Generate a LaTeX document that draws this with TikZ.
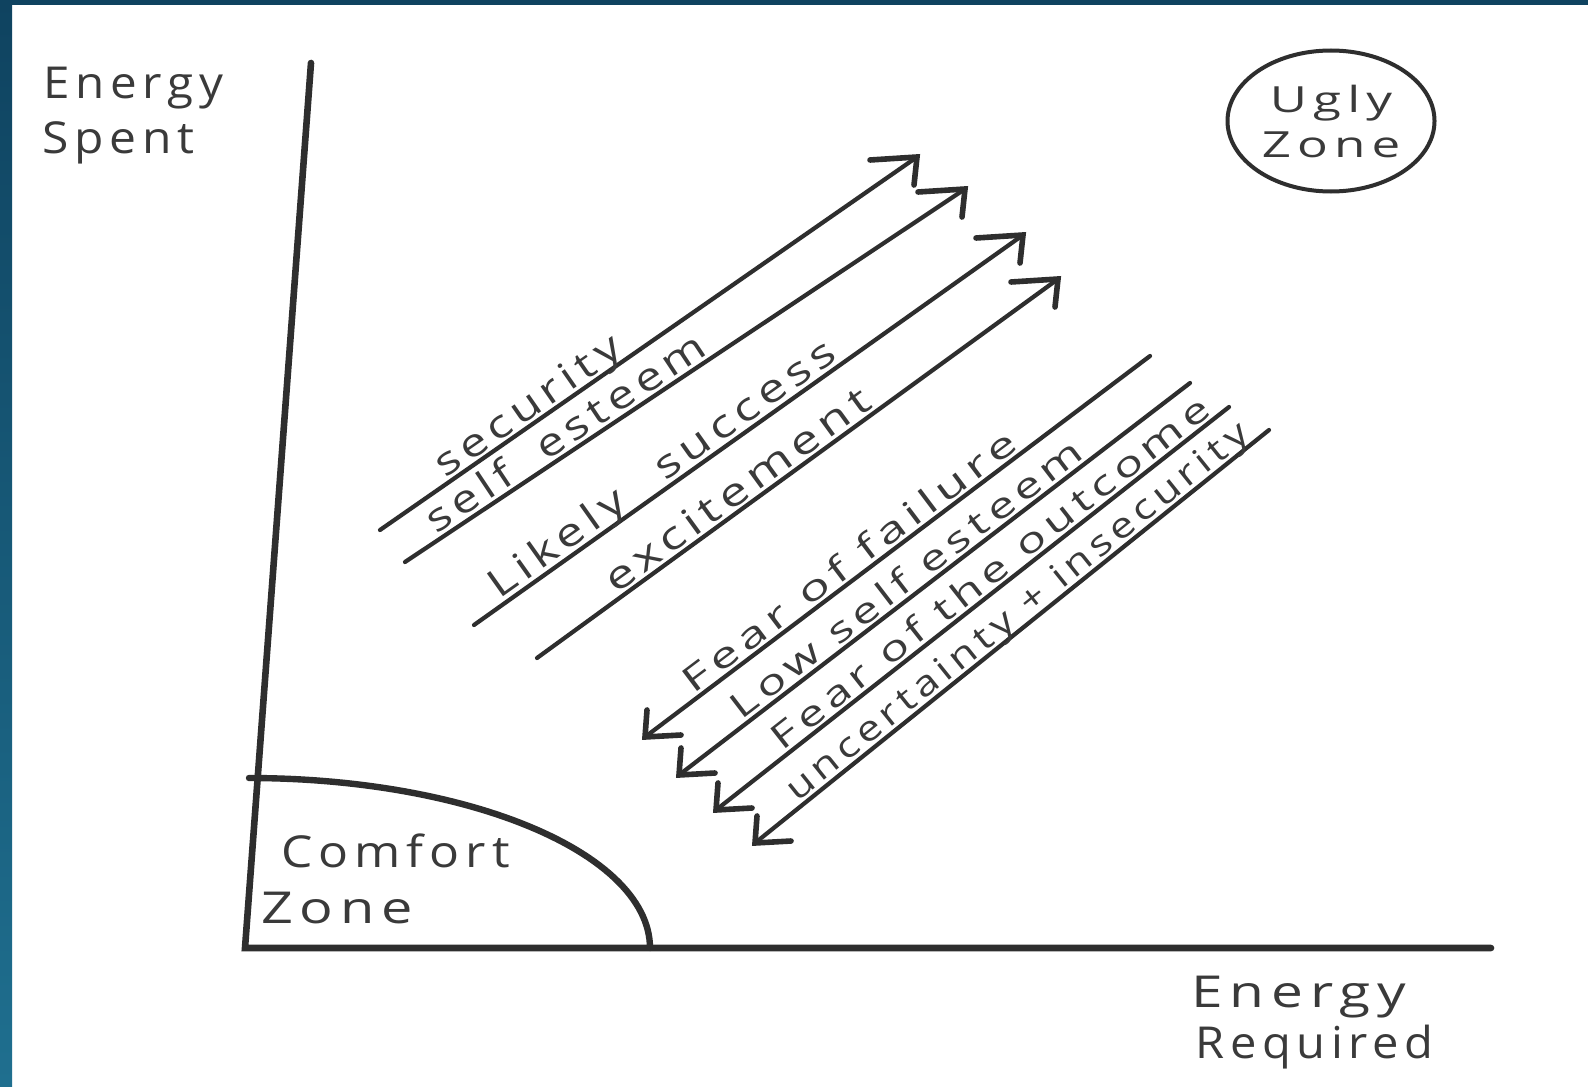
\documentclass[tikz,border=0pt]{standalone}
\usepackage{fontspec}
\setmainfont{Open Sans}
\newfontfamily\hand[LetterSpace=12]{Open Sans}
\usetikzlibrary{shapes.geometric}
\definecolor{ink}{HTML}{2E2E2E}
\definecolor{txt}{HTML}{3A3A3A}
\definecolor{bandtop}{HTML}{0F4360}
\definecolor{bandbot}{HTML}{1F6F8F}
\newcommand{\hw}[2]{\scalebox{#1}[1]{#2}}
\begin{document}
\begin{tikzpicture}[x=0.5pt,y=-0.5pt,
  axisline/.style={draw=ink,line width=3.3pt,line join=miter,line cap=round},
  arcline/.style={draw=ink,line width=3.2pt,line cap=round},
  shaft/.style={draw=ink,line width=2.1pt,line cap=round},
  headline/.style={draw=ink,line width=2.8pt,line cap=round,line join=miter},
  lbl/.style={text=txt,inner sep=0pt,sloped,anchor=base},
  uplbl/.style={lbl,font=\hand\fontsize{19.5}{22}\selectfont},
  dnlbl/.style={lbl,font=\hand\fontsize{17.5}{20}\selectfont},
  plain/.style={text=txt,inner sep=0pt,anchor=base west,font=\hand\fontsize{22}{26}\selectfont},
  zone/.style={ellipse,draw=ink,line width=2pt,minimum width=103.5pt,minimum height=70.5pt,
    inner sep=0pt,align=center,text=txt,font=\hand\fontsize{18}{22.5}\selectfont}]
% frame
\path[use as bounding box] (0,0) rectangle (1588,1086);
\fill[white] (0,0) rectangle (1588,1086);
\shade[top color=bandtop,bottom color=bandbot] (0,0) rectangle (12,1086);
\fill[bandtop] (0,0) rectangle (1588,5);
% axes
\coordinate (ytop) at (311,63);
\coordinate (origin) at (245,948);
\coordinate (xend) at (1491,948);
\draw[axisline] (ytop) -- (origin) -- (xend);
% comfort zone boundary
\draw[arcline] plot[domain=0:90,samples=60] ({249+401*sin(\x)},{948-170*cos(\x)});
% axis and zone labels
\node[plain] (es1) at (43,98) {\hw{1.08}{Energy}};
\node[plain] (es2) at (42,153) {\hw{1.09}{Spent}};
\node[plain] (er1) at (1191,1007) {\hw{1.29}{Energy}};
\node[plain] (er2) at (1195,1058) {\hw{1.07}{Required}};
\node[plain] (cz1) at (281,867) {\hw{1.13}{Comfort}};
\node[plain] (cz2) at (261,923) {\hw{1.27}{Zone}};
\node[zone] (ugly) at (1331,121) {\hw{1.42}{Ugly}\\\hw{1.42}{Zone}};
% arrow end points
\coordinate (a1s) at (380,530);  \coordinate (a1e) at (917,157);
\coordinate (a2s) at (405,562);  \coordinate (a2e) at (965,189);
\coordinate (a3s) at (474,625);  \coordinate (a3e) at (1023,235);
\coordinate (a4s) at (537,658);  \coordinate (a4e) at (1058,279);
\coordinate (b1s) at (1150,356); \coordinate (b1e) at (645,737);
\coordinate (b2s) at (1190,383); \coordinate (b2e) at (679,775);
\coordinate (b3s) at (1229,407); \coordinate (b3e) at (716,810);
\coordinate (b4s) at (1269,430); \coordinate (b4e) at (755,843);
% upward arrows with labels
\draw[shaft] (a1s) -- node[uplbl,pos=0.294] (l1) {\raisebox{2.5pt}{\hw{1.25}{security}}} (a1e);
\draw[shaft] (a2s) -- node[uplbl,pos=0.305] (l2) {\raisebox{2.5pt}{\hw{1.24}{self\hspace{0.35em} esteem}}} (a2e);
\draw[shaft] (a3s) -- node[uplbl,pos=0.362] (l3) {\raisebox{3pt}{\hw{1.28}{Likely\hspace{0.5em} success}}} (a3e);
\draw[shaft] (a4s) -- node[uplbl,pos=0.405] (l4) {\raisebox{2.5pt}{\hw{1.31}{excitement}}} (a4e);
\foreach \t in {a1e,a2e,a3e,a4e}{
  \draw[headline] (\t) ++(-47,3) -- (\t) -- ++(-3,28);
}
% downward arrows with labels
\draw[shaft] (b1s) -- node[dnlbl,pos=0.575] (l5) {\raisebox{2.5pt}{\hw{1.48}{Fear of failure}}} (b1e);
\draw[shaft] (b2s) -- node[dnlbl,pos=0.535] (l6) {\raisebox{2.5pt}{\hw{1.39}{Low self esteem}}} (b2e);
\draw[shaft] (b3s) -- node[dnlbl,pos=0.445] (l7) {\raisebox{2.5pt}{\hw{1.39}{Fear of the outcome}}} (b3e);
\draw[shaft] (b4s) -- node[dnlbl,pos=0.470] (l8) {\raisebox{2.5pt}{\hw{1.24}{uncertainty + insecurity}}} (b4e);
\foreach \t in {b1e,b2e,b3e,b4e}{
  \draw[headline] (\t) ++(36,-2) -- (\t) -- ++(2,-27);
}
\end{tikzpicture}
\end{document}
